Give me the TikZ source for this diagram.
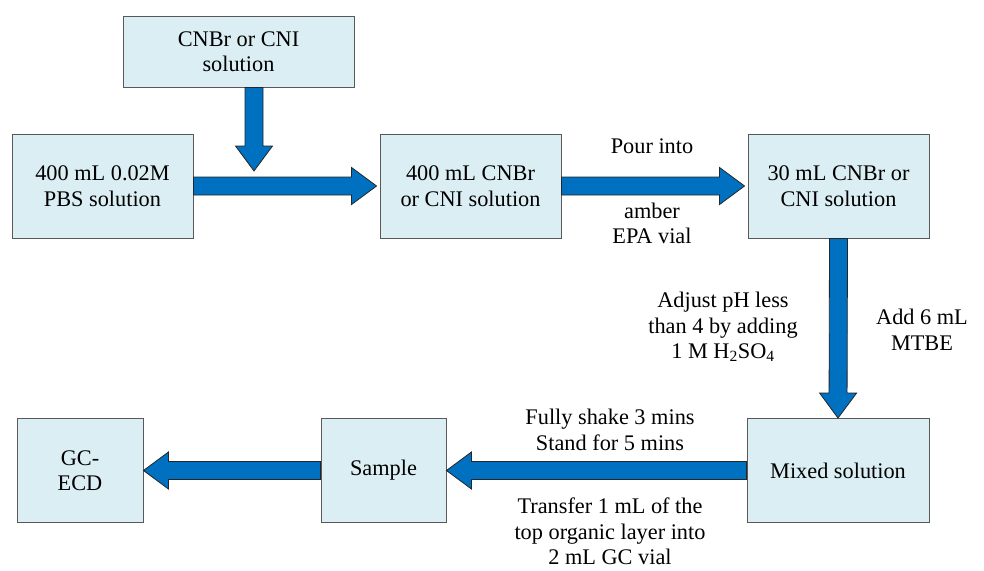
\documentclass[tikz,border=0pt]{standalone}
\usepackage{fontspec}
\setmainfont{Liberation Serif}
\usetikzlibrary{calc}
\definecolor{boxfill}{HTML}{DAEEF3}
\definecolor{boxline}{HTML}{595959}
\definecolor{arrblue}{HTML}{0070C0}
\newcommand{\fatarrow}[2]{%
	\filldraw[fatarr] let \p1=(#1), \p2=(#2),
		\n1={atan2(\y2-\y1,\x2-\x1)}, \n2={veclen(\x2-\x1,\y2-\y1)} in
		{[shift={(\p1)}, rotate=\n1]
		(0pt,9pt) -- ({\n2-25pt},9pt) -- ({\n2-25pt},18.5pt) -- ({\n2+0pt},0pt)
		-- ({\n2-25pt},-18.5pt) -- ({\n2-25pt},-9pt) -- (0pt,-9pt) -- cycle};}
\begin{document}
\begin{tikzpicture}[x=1pt, y=-1pt,
	box/.style={draw=boxline, fill=boxfill, line width=0.9pt, align=center, inner sep=0pt, font=\fontsize{22.3}{25.5}\selectfont},
	lbl/.style={align=center, inner sep=0pt, font=\fontsize{22.3}{25.5}\selectfont},
	fatarr/.style={fill=arrblue, draw=black!85, line width=0.8pt, line join=miter}]
		\useasboundingbox (0,0) rectangle (984,570);
		\node[box, minimum width=231pt, minimum height=71pt] (cnsol) at (238.5,51.5) {CNBr or CNI\\solution};
		\node[box, minimum width=181pt, minimum height=104pt] (pbs) at (102.5,186) {400 mL 0.02M\\PBS solution};
		\node[box, minimum width=181pt, minimum height=104pt] (mid) at (470.5,186) {400 mL CNBr\\or CNI solution};
		\node[box, minimum width=181pt, minimum height=104pt] (thirty) at (838.5,186) {30 mL CNBr or\\CNI solution};
		\node[box, minimum width=182pt, minimum height=104pt] (mixed) at (838,470.5) {Mixed solution};
		\node[box, minimum width=125pt, minimum height=104pt] (sample) at (383.5,470.5) {Sample};
		\node[box, minimum width=126pt, minimum height=104pt] (gcecd) at (80,470.5) {GC-\\ECD};
		\coordinate (drop) at (254,171);
		\fatarrow{cnsol.south -| drop}{drop}
		\fatarrow{pbs.east}{[xshift=-3pt]mid.west}
		\fatarrow{mid.east}{[xshift=-3pt]thirty.west}
		\fatarrow{thirty.south}{mixed.north}
		\fatarrow{mixed.west}{sample.east}
		\fatarrow{sample.west}{gcecd.east}
		\node[lbl] (pour) at (652,146) {Pour into};
		\node[lbl] (amber) at (652,223.5) {amber\\EPA vial};
		\node[lbl] (adjust) at (723,327) {Adjust pH less\\than 4 by adding\\1 M H\textsubscript{2}SO\textsubscript{4}};
		\node[lbl] (mtbe) at (922,330) {Add 6 mL\\MTBE};
		\node[lbl] (shake) at (610,430) {Fully shake 3 mins\\Stand for 5 mins};
		\node[lbl] (transfer) at (610,531.5) {Transfer 1 mL of the\\top organic layer into\\2 mL GC vial};
	\end{tikzpicture}
\end{document}
